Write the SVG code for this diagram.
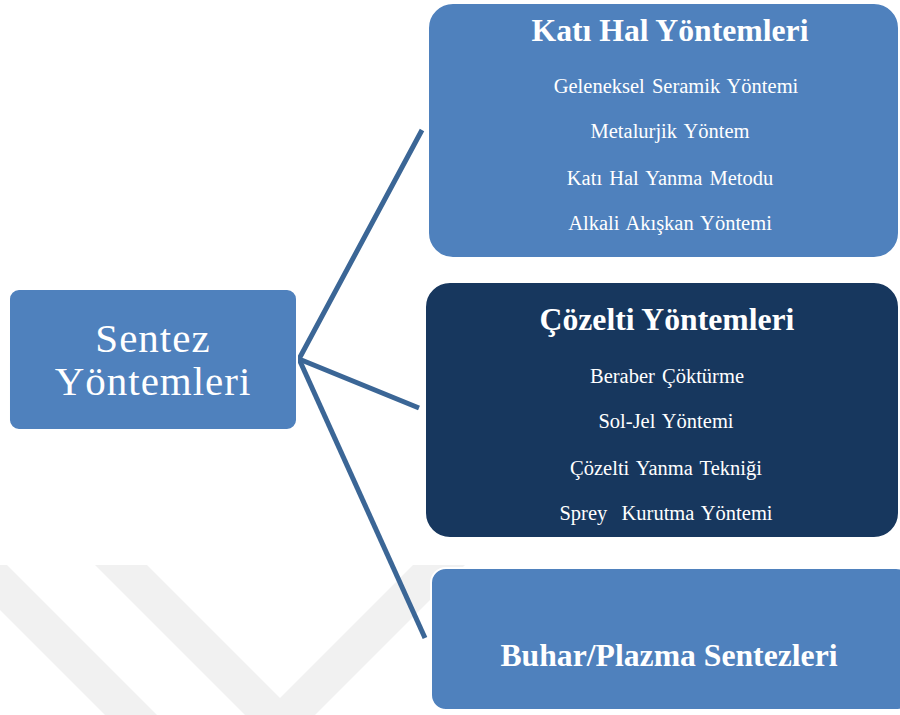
<svg xmlns="http://www.w3.org/2000/svg" width="900" height="715" viewBox="0 0 900 715">
<style>
.box{stroke:#ffffff;stroke-width:2}
.light{fill:#4f81bd}
.dark{fill:#17375e}
.t{font-family:"Liberation Serif","Times New Roman",serif;fill:#ffffff;text-anchor:middle}
.title{font-size:31.7px;font-weight:bold}
.item{font-size:20.5px;word-spacing:2px}
.big{font-size:41px;letter-spacing:1px}
.conn{stroke:#3b6696;stroke-width:5;fill:none;stroke-linecap:butt;stroke-linejoin:miter}
</style>
<rect width="900" height="715" fill="#ffffff"/>
<g id="watermark" fill="#f1f1f1">
<polygon points="-45,565 7,565 157,715 105,715"/>
<polygon points="95,565 147,565 280,698 413,565 465,565 280,750"/>
</g>
<g id="connectors">
<polyline class="conn" points="422,130 299,359 419,408"/>
<line class="conn" x1="299" y1="359" x2="425" y2="638"/>
</g>
<g id="root">
<rect class="box light" x="9" y="289" width="288" height="141" rx="10"/>
<text class="t big" x="153" y="352">Sentez</text>
<text class="t big" x="153" y="395">Yöntemleri</text>
</g>
<g id="kati-hal">
<rect class="box light" x="428" y="3" width="471" height="255" rx="25"/>
<text class="t title" x="670" y="41">Katı Hal Yöntemleri</text>
<text class="t item" x="676" y="93">Geleneksel Seramik Yöntemi</text>
<text class="t item" x="670" y="138">Metalurjik Yöntem</text>
<text class="t item" x="670" y="185">Katı Hal Yanma Metodu</text>
<text class="t item" x="670" y="230">Alkali Akışkan Yöntemi</text>
</g>
<g id="cozelti">
<rect class="box dark" x="425" y="282" width="474" height="256" rx="25"/>
<text class="t title" x="667" y="330">Çözelti Yöntemleri</text>
<text class="t item" x="667" y="383">Beraber Çöktürme</text>
<text class="t item" x="666" y="428">Sol-Jel Yöntemi</text>
<text class="t item" x="666" y="475">Çözelti Yanma Tekniği</text>
<text class="t item" x="666" y="520">Sprey&#160; Kurutma Yöntemi</text>
</g>
<g id="buhar">
<rect class="box light" x="431" y="568" width="480" height="142" rx="15" stroke-width="4"/>
<text class="t title" x="669" y="666">Buhar/Plazma Sentezleri</text>
</g>
</svg>
